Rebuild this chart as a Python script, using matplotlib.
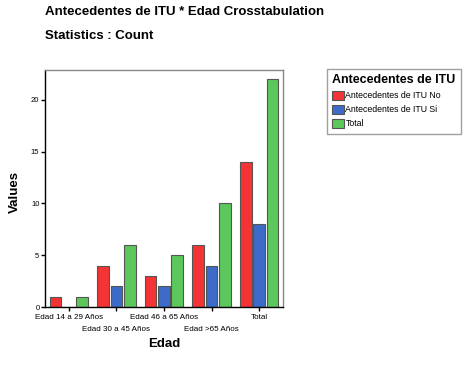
import matplotlib
matplotlib.use('Agg')
import matplotlib.pyplot as plt
import numpy as np

plt.rcParams['font.family'] = ['Liberation Sans', 'DejaVu Sans']

categories = ['Edad 14 a 29 Años', 'Edad 30 a 45 Años', 'Edad 46 a 65 Años',
              'Edad >65 Años', 'Total']
itu_no = [1, 4, 3, 6, 14]
itu_si = [0, 2, 2, 4, 8]
total = [1, 6, 5, 10, 22]
series_names = ['Antecedentes de ITU No', 'Antecedentes de ITU Si', 'Total']
colors = ['#f43434', '#3c6cc8', '#5cc85c']

fig = plt.figure(figsize=(4.7, 3.72), dpi=100)
ax = fig.add_axes([0.0957, 0.1747, 0.5063, 0.6373])

x = np.arange(len(categories))
w = 0.245
off = 0.28
for i, (vals, name, c) in enumerate(zip([itu_no, itu_si, total], series_names, colors)):
    ax.bar(x + (i - 1) * off, vals, width=w, color=c, edgecolor='#555555',
           linewidth=0.8, label=name)

ax.set_xlim(-0.5, 4.5)
ax.set_ylim(0, 22.9)
ax.set_yticks([0, 5, 10, 15, 20])
ax.tick_params(axis='y', labelsize=5.5, length=3, width=1, pad=1)
# staggered category labels: even ones on major ticks, odd ones on minor ticks
ax.set_xticks(x[::2])
ax.set_xticklabels(categories[::2])
ax.set_xticks(x[1::2], minor=True)
ax.set_xticklabels(categories[1::2], minor=True)
ax.tick_params(axis='x', which='major', labelsize=5.8, length=3, width=1, pad=2)
ax.tick_params(axis='x', which='minor', labelsize=5.8, length=3, width=1, pad=10.5)
for s in ax.spines.values():
    s.set_color('#888888')
    s.set_linewidth(1.0)
ax.spines['left'].set_color('black')
ax.spines['bottom'].set_color('black')

fig.text(0.0957, 0.968, 'Antecedentes de ITU * Edad Crosstabulation',
         fontsize=9.5, fontweight='bold', va='center')
fig.text(0.0957, 0.904, 'Statistics : Count',
         fontsize=9.5, fontweight='bold', va='center')
fig.text(0.349, 0.076, 'Edad', fontsize=9.5, fontweight='bold', ha='center', va='center')
fig.text(0.032, 0.484, 'Values', fontsize=9.5, fontweight='bold', ha='center',
         va='center', rotation=90)

leg = fig.legend(loc='upper left', bbox_to_anchor=(0.696, 0.8145),
                 title='Antecedentes de ITU', fontsize=6.3, frameon=True,
                 fancybox=False, handlelength=1.3, handleheight=1.3,
                 handletextpad=0.2, labelspacing=0.5, borderpad=0.6,
                 borderaxespad=0, alignment='left')
leg.get_title().set_fontweight('bold')
leg.get_title().set_fontsize(9)
leg.get_frame().set_edgecolor('#888888')
leg.get_frame().set_linewidth(1.0)

fig.savefig('out.png', dpi=100)
